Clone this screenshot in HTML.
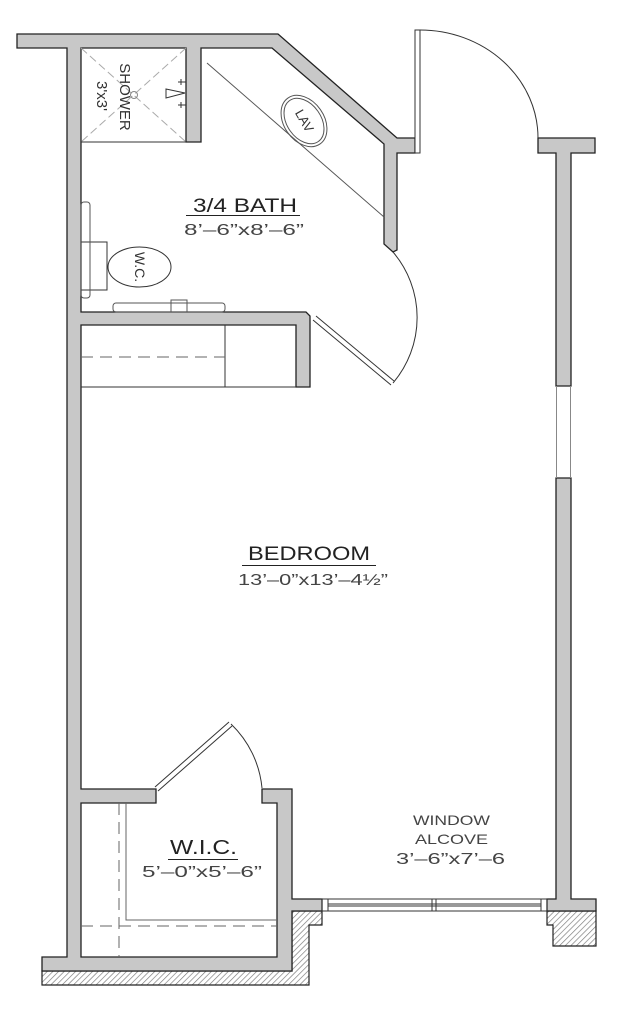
<!DOCTYPE html>
<html><head><meta charset="utf-8"><style>
html,body{margin:0;padding:0;background:#fff;}
svg{display:block;}
text{font-family:"Liberation Sans",sans-serif;}
</style></head><body>
<svg width="620" height="1024" viewBox="0 0 620 1024" xmlns="http://www.w3.org/2000/svg">
<defs>
<pattern id="h" width="4" height="4" patternUnits="userSpaceOnUse" patternTransform="rotate(45)">
<rect width="4" height="4" fill="#fff"/><line x1="0" y1="0" x2="0" y2="4" stroke="#777" stroke-width="1.3"/>
</pattern>
</defs>
<g stroke="#222" stroke-width="1.2" fill="url(#h)">
<polygon points="42,971 292,971 292,911 322,911 322,925 309,925 309,985 42,985"/>
<polygon points="547,911 596,911 596,946 553,946 553,925 547,925"/>
</g>
<g fill="#c8c8c8" stroke="#222" stroke-width="1.3" stroke-linejoin="miter">
<polygon points="17,34 278,34 397,138 415,138 415,153 397,153 397,250 393,252 384,244 384,144 272,48 201,48 201,142 186,142 186,48 81,48 81,312 306,312 310,316 310,387 296,387 296,325 81,325 81,789 156,789 156,803 81,803 81,957 277,957 277,803 262,803 262,789 292,789 292,899 322,899 322,911 292,911 292,971 42,971 42,957 67,957 67,48 17,48"/>
<polygon points="538,138 595,138 595,153 571,153 571,386 556,386 556,153 538,153"/>
<polygon points="556,478 571,478 571,899 596,899 596,911 547,911 547,899 556,899"/>
</g>
<g fill="none" stroke="#333" stroke-width="1">
<line x1="322" y1="899" x2="547" y2="899"/><line x1="322" y1="911" x2="547" y2="911"/>
<line x1="328" y1="904" x2="541" y2="904"/><line x1="328" y1="906" x2="541" y2="906"/>
<rect x="322" y="899" width="6" height="12"/><rect x="541" y="899" width="6" height="12"/><rect x="432" y="899" width="4" height="12"/>
<line x1="556.5" y1="386" x2="556.5" y2="478" stroke="#888"/><line x1="570.5" y1="386" x2="570.5" y2="478" stroke="#888"/>
<rect x="415" y="30" width="5" height="123" fill="#fff"/>
<path d="M420,30 A118,108 0 0 1 538,138"/>
<path d="M393,252 A101,101 0 0 1 393,383"/>
<line x1="316" y1="316" x2="394" y2="381"/><line x1="313" y1="320" x2="391" y2="385"/>
<path d="M231,724 A102,102 0 0 1 262,788"/>
<line x1="155" y1="787" x2="229" y2="722"/><line x1="158" y1="791" x2="232" y2="726"/>
<line x1="81" y1="142" x2="186" y2="142"/>
<line x1="81" y1="48" x2="186" y2="142" stroke="#aaa" stroke-dasharray="8,4"/>
<line x1="186" y1="48" x2="81" y2="142" stroke="#aaa" stroke-dasharray="8,4"/>
<circle cx="134" cy="95" r="3.5" stroke="#888"/>
<polygon points="166,89 166,98 185,93"/>
<line x1="178" y1="82" x2="186" y2="82"/><line x1="181" y1="79" x2="181" y2="85"/>
<line x1="178" y1="105" x2="186" y2="105"/><line x1="181" y1="102" x2="181" y2="108"/>
<line x1="207" y1="63" x2="384" y2="217" stroke="#555"/>
<ellipse cx="304" cy="121" rx="28" ry="20" transform="rotate(55 304 121)" stroke="#555"/>
<ellipse cx="304" cy="121" rx="25" ry="17" transform="rotate(55 304 121)" stroke="#555"/>
<rect x="81" y="242" width="26" height="48"/>
<ellipse cx="139.5" cy="267" rx="31.5" ry="20"/>
<rect x="81" y="202" width="9" height="96" rx="3" stroke="#555"/>
<rect x="113" y="303" width="112" height="9" rx="3" stroke="#555"/>
<rect x="171" y="300" width="16" height="12" stroke="#555"/>
<line x1="225" y1="325" x2="225" y2="387"/>
<line x1="81" y1="387" x2="296" y2="387"/>
<line x1="81" y1="357" x2="225" y2="357" stroke="#666" stroke-dasharray="12,7"/>
<line x1="119" y1="803" x2="119" y2="957" stroke="#666" stroke-dasharray="12,7"/>
<polyline points="126,803 126,920 277,920" stroke="#666"/>
<line x1="81" y1="926" x2="277" y2="926" stroke="#666" stroke-dasharray="12,7"/>
</g>
<g fill="#333">
<text transform="translate(120,97) rotate(90)" font-size="15" text-anchor="middle">SHOWER</text>
<text transform="translate(97,96) rotate(90)" font-size="15" text-anchor="middle">3'x3'</text>
<text transform="translate(304,121) rotate(60)" font-size="13" text-anchor="middle" dy="4">LAV</text>
<text transform="translate(140,267) rotate(90)" font-size="14" text-anchor="middle" dy="5">W.C.</text>
</g>
<g fill="#222" lengthAdjust="spacingAndGlyphs">
<text x="193" y="212" font-size="19" textLength="104" lengthAdjust="spacingAndGlyphs">3/4 BATH</text>
<line x1="186" y1="215.5" x2="300" y2="215.5" stroke="#222" stroke-width="1"/>
<text x="184" y="235" font-size="16" fill="#444" textLength="120" lengthAdjust="spacingAndGlyphs">8’–6”x8’–6”</text>
<text x="248" y="560" font-size="19" textLength="122" lengthAdjust="spacingAndGlyphs">BEDROOM</text>
<line x1="242" y1="565.5" x2="376" y2="565.5" stroke="#222" stroke-width="1"/>
<text x="238" y="585" font-size="16" fill="#444" textLength="150" lengthAdjust="spacingAndGlyphs">13’–0”x13’–4½”</text>
<text x="170" y="854" font-size="20" textLength="67" lengthAdjust="spacingAndGlyphs">W.I.C.</text>
<line x1="168" y1="859.5" x2="238" y2="859.5" stroke="#222" stroke-width="1"/>
<text x="142" y="877" font-size="16" fill="#444" textLength="120" lengthAdjust="spacingAndGlyphs">5’–0”x5’–6”</text>
<text x="413" y="825" font-size="14" fill="#444" textLength="77" lengthAdjust="spacingAndGlyphs">WINDOW</text>
<text x="415" y="844" font-size="14" fill="#444" textLength="73" lengthAdjust="spacingAndGlyphs">ALCOVE</text>
<text x="396" y="864" font-size="16" fill="#444" textLength="109" lengthAdjust="spacingAndGlyphs">3’–6”x7’–6</text>
</g>
</svg>
</body></html>
